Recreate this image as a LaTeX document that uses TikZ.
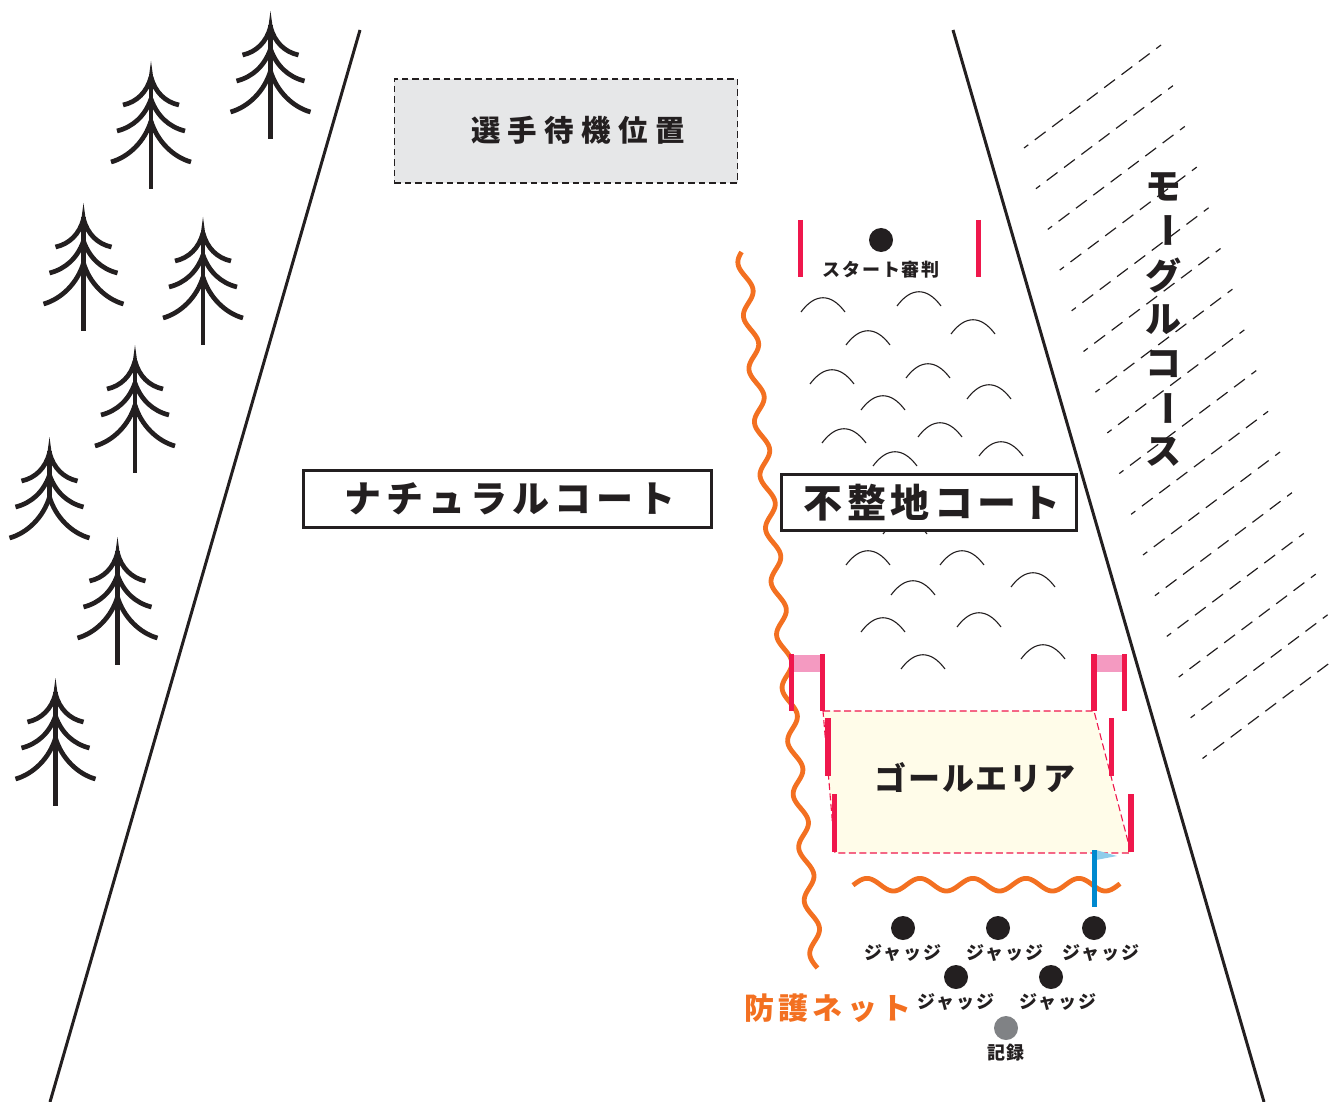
\documentclass[tikz,border=0pt]{standalone}
\usepackage{fontspec}
\setmainfont{Noto Sans CJK JP}[BoldFont=* Black]
\definecolor{ink}{HTML}{231F20}
\definecolor{netorange}{HTML}{F37021}
\definecolor{gatered}{HTML}{EF174C}
\definecolor{gatepink}{HTML}{F49AC1}
\definecolor{goalfill}{HTML}{FFFCE9}
\definecolor{waitgray}{HTML}{E6E7E8}
\definecolor{flagblue}{HTML}{0089CF}
\definecolor{flaglight}{HTML}{8FCDEB}
\definecolor{recgray}{HTML}{808285}
\tikzset{
  edgeline/.style={draw=ink,line width=3pt},
  branch/.style={draw=ink,line width=4.7pt},
  mound/.style={draw=ink,line width=1.1pt},
  hatchline/.style={draw=ink,line width=1.2pt,dash pattern=on 13.5pt off 8.2pt,dash phase=8.2pt},
  netline/.style={draw=netorange,line width=4.8pt},
  gatepole/.style={draw=gatered,line width=5.2pt},
  personmark/.style={circle,fill=ink,minimum size=24pt,inner sep=0pt},
  labelbox/.style={draw=ink,fill=white,line width=3pt,inner sep=0pt},
  jptext/.style={font=\bfseries,text=ink,inner sep=0pt},
  small/.style={jptext,font=\fontsize{18}{20}\selectfont\bfseries\addfontfeature{LetterSpace=11}},
}
\newcommand{\firtree}[2]{%
  \begin{scope}[shift={(#1,#2)}]
    \fill[ink] (0,0) .. controls (1,8) and (2,14) .. (3,24) -- (-3,24) .. controls (-2,14) and (-1,8) .. (0,0) -- cycle;
    \draw[branch] (0,14) -- (0,60);
    \foreach \s in {1,-1}{
      \draw[branch] (0,16) .. controls (\s*4,31) and (\s*14,41) .. (\s*28,44);
      \draw[branch] (0,38) .. controls (\s*6,55) and (\s*18,66) .. (\s*34,70);
      \draw[branch] (0,60) .. controls (\s*6,80) and (\s*22,96) .. (\s*40,101);
    }
  \end{scope}}
\newcommand{\firtrunk}[2]{\draw[branch] (#1,#2+60) -- (#1,#2+128);}
\newcommand{\moundarc}[2]{\draw[mound] (#1,#2) .. controls (#1+14,#2-19) and (#1+30,#2-19) .. (#1+44,#2);}
\begin{document}
\begin{tikzpicture}[x=1pt,y=-1pt]
\useasboundingbox (0,0) rectangle (1333,1102);
% course edges
\coordinate (leftTop) at (360,30); \coordinate (leftBot) at (50,1102);
\coordinate (rightTop) at (953,30); \coordinate (rightBot) at (1264,1102);
\draw[edgeline] (leftTop) -- (leftBot);
\draw[edgeline] (rightTop) -- (rightBot);
% trees
\firtree{270.5}{11}\firtrunk{270.5}{11}
\firtree{151}{61}\firtrunk{151}{61}
\firtree{83.5}{203}\firtrunk{83.5}{203}
\firtree{203}{217}\firtrunk{203}{217}
\firtree{135}{345}\firtrunk{135}{345}
\firtree{49.5}{437}
\firtree{117.5}{537}\firtrunk{117.5}{537}
\firtree{55.5}{678}\firtrunk{55.5}{678}
% mogul hatching
\foreach \k in {0,...,15}{
  \draw[hatchline] ({1024+11.9*\k},{148+40.7*\k}) -- ({1161+11.9*\k},{45+40.7*\k});
}
% waiting box
\node[draw=ink,fill=waitgray,dash pattern=on 6.5pt off 4pt,line width=1.1pt,minimum width=343.5pt,minimum height=104pt,inner sep=0pt] (wait) at (566,131) {};
\node[jptext,font=\fontsize{29.5}{32}\selectfont\bfseries\addfontfeature{LetterSpace=25}] (waitlabel) at (578,130) {選手待機位置};
% mounds
\moundarc{801}{312}\moundarc{897}{306}\moundarc{846}{345}\moundarc{951}{334}
\moundarc{810}{384}\moundarc{906}{378}\moundarc{861}{410}\moundarc{967}{399}
\moundarc{822}{443}\moundarc{918}{437}\moundarc{873}{466}\moundarc{979}{456}
\moundarc{883}{534}
\moundarc{846}{565}\moundarc{940}{565}\moundarc{891}{595}\moundarc{1011}{587}
\moundarc{861}{632}\moundarc{957}{627}\moundarc{901}{669}\moundarc{1021}{659}
% goal area
\fill[goalfill] (823,711) -- (1094,711) -- (1131,853) -- (835,853) -- cycle;
\draw[gatered,line width=1.1pt,dash pattern=on 7pt off 3.5pt] (823,711) -- (1094,711) -- (1131,853) -- (835,853) -- cycle;
% safety nets
\draw[netline,line join=round] plot[domain=252:968,samples=500,variable=\t] ({745.5+0.104*(\t-276.7)+6.2*sin((\t-276.7)/53.17*360)},{\t});
\draw[netline,line join=round] plot[domain=853:1120,samples=300,variable=\t] ({\t},{884.7-6.3*sin((\t-853.7)/53*360)});
% start gate
\draw[gatepole] (800.5,220) -- (800.5,277);
\draw[gatepole] (978.5,220) -- (978.5,277);
% finish gates
\fill[gatepink] (791,655) rectangle (822,672);
\fill[gatepink] (1094,655) rectangle (1124,672);
\draw[gatepole] (791.5,654) -- (791.5,711);
\draw[gatepole] (822.5,654) -- (822.5,711);
\draw[gatepole] (1094,654) -- (1094,711);
\draw[gatepole] (1124.5,654) -- (1124.5,711);
\draw[gatepole] (828,718) -- (828,776);
\draw[gatepole] (1111.5,718) -- (1111.5,776);
\draw[gatepole] (834.5,794) -- (834.5,852);
\draw[gatepole] (1131,794) -- (1131,852);
% flag
\fill[flaglight] (1096,850) -- (1117,856) -- (1096,860) -- cycle;
\draw[flagblue,line width=5pt] (1094,850) -- (1094,907);
% labels
\node[jptext,font=\fontsize{32}{36}\selectfont\bfseries\addfontfeature{LetterSpace=6}] (goal) at (975,778) {ゴールエリア};
\node[labelbox,minimum width=408pt,minimum height=57pt] (natbox) at (507.5,498.5) {};
\node[jptext,font=\fontsize{37}{40}\selectfont\bfseries\addfontfeature{LetterSpace=13.5}] (natlabel) at (510,499) {ナチュラルコート};
\node[labelbox,minimum width=295pt,minimum height=56pt] (unevenbox) at (929,502) {};
\node[jptext,font=\fontsize{39}{42}\selectfont\bfseries\addfontfeature{LetterSpace=11.5}] (unevenlabel) at (932,503) {不整地コート};
% vertical course name
\foreach \c/\y/\r [count=\i] in {モ/187/0,ー/231/-90,グ/275/0,ル/320/0,コ/364/0,ー/408/-90,ス/452/0}{
  \node[jptext,rotate=\r,font=\fontsize{36}{40}\selectfont\bfseries] (mogul\i) at (1163,\y) {\c};
}
% people
\node[personmark] (startref) at (881,240) {};
\node[small] (startlabel) at (881,270) {スタート審判};
\node[personmark] (j1) at (903,928) {};
\node[personmark] (j2) at (998,928) {};
\node[personmark] (j3) at (1094,928) {};
\node[personmark] (j4) at (956,977) {};
\node[personmark] (j5) at (1051,977) {};
\node[small] (j1l) at (903,953) {ジャッジ};
\node[small] (j2l) at (1005,953) {ジャッジ};
\node[small] (j3l) at (1101,953) {ジャッジ};
\node[small] (j4l) at (956,1002) {ジャッジ};
\node[small] (j5l) at (1058,1002) {ジャッジ};
\node[personmark,fill=recgray] (rec) at (1006,1028) {};
\node[small] (recl) at (1006,1053) {記録};
\node[jptext,text=netorange,font=\fontsize{30}{32}\selectfont\bfseries\addfontfeature{LetterSpace=14}] (netlabel) at (828,1008) {防護ネット};
\end{tikzpicture}
\end{document}
